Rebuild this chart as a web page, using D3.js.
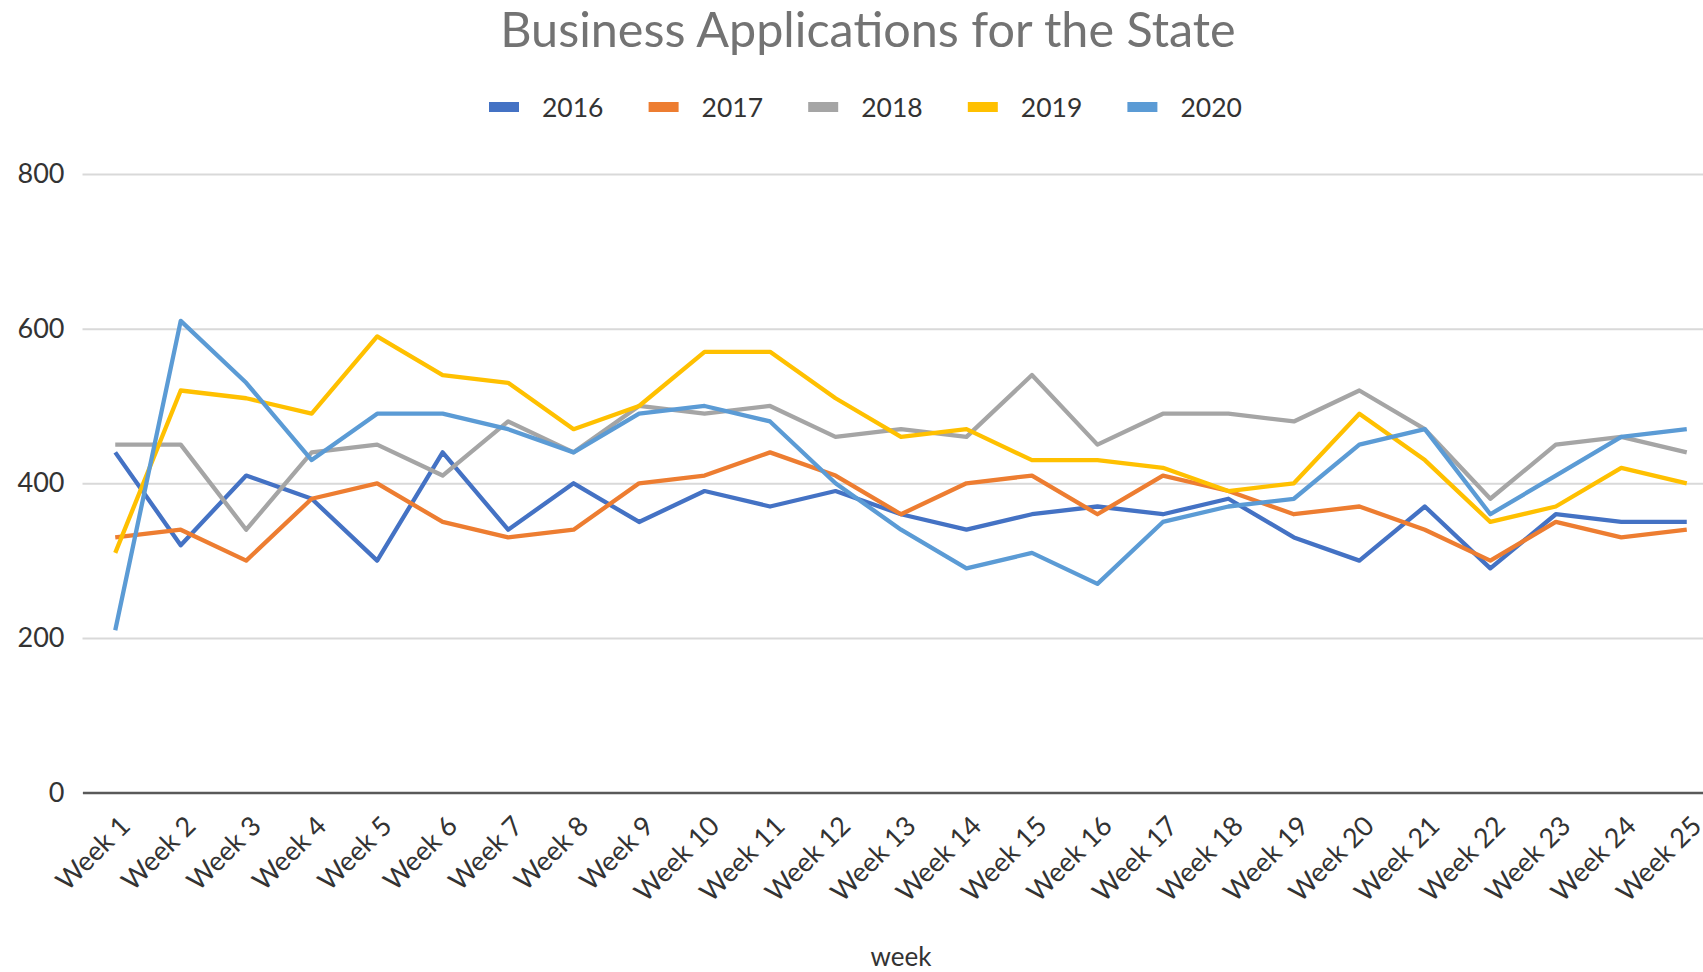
<!DOCTYPE html>
<html>
<head>
<meta charset="utf-8">
<script src="https://cdn.jsdelivr.net/npm/d3@7/dist/d3.min.js"></script>
<style>
  body { margin: 0; background: #fff; overflow: hidden; }
</style>
</head>
<body>
<div id="chart"></div>
<script>
// categories / tick labels
const weeks = ["Week 1", "Week 2", "Week 3", "Week 4", "Week 5", "Week 6", "Week 7",
  "Week 8", "Week 9", "Week 10", "Week 11", "Week 12", "Week 13", "Week 14", "Week 15",
  "Week 16", "Week 17", "Week 18", "Week 19", "Week 20", "Week 21", "Week 22", "Week 23",
  "Week 24", "Week 25"];
const yTicks = [0, 200, 400, 600, 800];
const years = ["2016", "2017", "2018", "2019", "2020"];

// series values
const s2016 = [440, 320, 410, 380, 300, 440, 340, 400, 350, 390, 370, 390, 360, 340, 360, 370, 360, 380, 330, 300, 370, 290, 360, 350, 350];
const s2017 = [330, 340, 300, 380, 400, 350, 330, 340, 400, 410, 440, 410, 360, 400, 410, 360, 410, 390, 360, 370, 340, 300, 350, 330, 340];
const s2018 = [450, 450, 340, 440, 450, 410, 480, 440, 500, 490, 500, 460, 470, 460, 540, 450, 490, 490, 480, 520, 470, 380, 450, 460, 440];
const s2019 = [310, 520, 510, 490, 590, 540, 530, 470, 500, 570, 570, 510, 460, 470, 430, 430, 420, 390, 400, 490, 430, 350, 370, 420, 400];
const s2020 = [210, 610, 530, 430, 490, 490, 470, 440, 490, 500, 480, 400, 340, 290, 310, 270, 350, 370, 380, 450, 470, 360, 410, 460, 470];

const colors = ["#4472C4", "#ED7D31", "#A5A5A5", "#FFC000", "#5B9BD5"];
const font = "Lato, 'Open Sans', sans-serif";

const width = 1703, height = 972;
const plotLeft = 82.5, step = 65.48;
const plotRight = plotLeft + step * weeks.length;
const plotTop = 174, plotBottom = 792.6;

const svg = d3.select("#chart")
  .append("svg")
  .attr("width", width)
  .attr("height", height);

function textAttr(selection, fill, size) {
  selection
    .attr("fill", fill)
    .attr("font-family", font)
    .attr("font-size", size);
}

const x = d3.scalePoint()
  .domain(weeks)
  .range([plotLeft, plotRight])
  .padding(0.5);

const y = d3.scaleLinear()
  .domain([0, 800])
  .range([plotBottom, plotTop]);

// y axis + gridlines
const yAxis = svg.append("g")
  .attr("transform", `translate(${plotLeft},0)`)
  .call(d3.axisLeft(y).tickValues(yTicks).tickSize(-(width - plotLeft)).tickPadding(18).tickFormat(d3.format("d")));
yAxis.select(".domain").remove();
yAxis.selectAll(".tick line")
  .attr("stroke", "#d9d9d9")
  .attr("stroke-width", 2);
yAxis.selectAll(".tick text")
  .call(textAttr, "#333", "27px");

// x axis
const xAxis = svg.append("g")
  .attr("transform", `translate(0,${plotBottom})`)
  .call(d3.axisBottom(x).tickSize(0).tickSizeOuter(0));
xAxis.select(".domain")
  .attr("stroke", "#595959")
  .attr("stroke-width", 2.5);
xAxis.selectAll(".tick text")
  .attr("x", 0)
  .attr("y", 0)
  .attr("dy", 0)
  .attr("text-anchor", "end")
  .attr("transform", "translate(16,35) rotate(-45)")
  .call(textAttr, "#333", "27px");

// lines
const seriesData = [s2016, s2017, s2018, s2019, s2020];
const line = d3.line()
  .x((d, i) => x(weeks[i]))
  .y(d => y(d));

svg.append("g")
  .selectAll("path")
  .data(seriesData)
  .enter()
  .append("path")
  .attr("d", line)
  .attr("fill", "none")
  .attr("stroke", (d, i) => colors[i])
  .attr("stroke-width", 4.3)
  .attr("stroke-linejoin", "round");

// title
svg.append("text")
  .attr("x", 868)
  .attr("y", 47)
  .attr("text-anchor", "middle")
  .text("Business Applications for the State")
  .call(textAttr, "#737373", "48.5px");

// legend
const legend = svg.append("g")
  .selectAll("g")
  .data(years)
  .enter()
  .append("g")
  .attr("transform", (d, i) => `translate(${489 + i * 159.6},0)`);

legend.append("rect")
  .attr("x", 0)
  .attr("y", 102)
  .attr("width", 30)
  .attr("height", 10)
  .attr("fill", (d, i) => colors[i]);

legend.append("text")
  .attr("x", 53)
  .attr("y", 117)
  .text(d => d)
  .call(textAttr, "#333", "26.5px");

// axis title
svg.append("text")
  .attr("x", 901)
  .attr("y", 966)
  .attr("text-anchor", "middle")
  .text("week")
  .call(textAttr, "#333", "26px");
</script>
</body>
</html>
